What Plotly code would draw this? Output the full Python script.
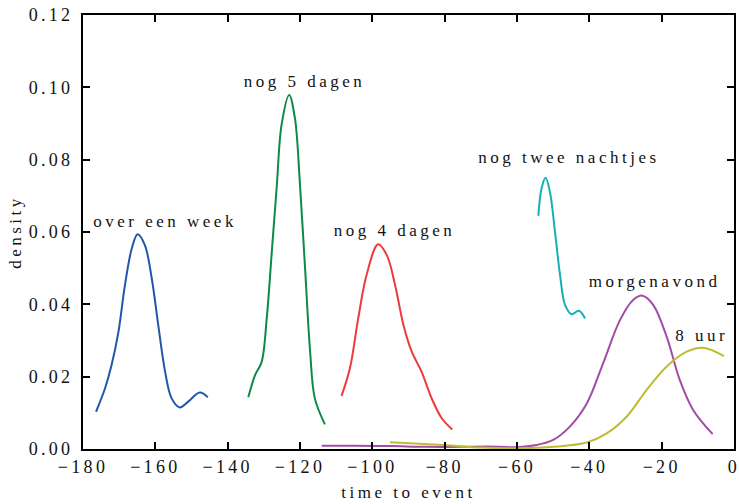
import plotly.graph_objects as go

# ---- data ----
week_x = [-176.4, -173.9, -172.1, -170.2, -168.4, -166.5, -164.9, -162.9, -161.0, -159.2, -157.3, -155.5, -153.2, -150.9, -147.7, -145.5]
week_y = [0.0103, 0.0168, 0.0232, 0.0324, 0.0453, 0.0555, 0.0594, 0.0564, 0.0472, 0.0343, 0.0214, 0.0140, 0.0115, 0.0131, 0.0156, 0.0143]

d5_x = [-134.3, -132.4, -130.6, -129.2, -127.8, -126.4, -125.1, -123.0, -121.4, -120.0, -118.6, -117.2, -115.9, -113.1]
d5_y = [0.0143, 0.0205, 0.0241, 0.0361, 0.0545, 0.0730, 0.0896, 0.0979, 0.0914, 0.0730, 0.0500, 0.0269, 0.0140, 0.0068]

d4_x = [-108.5, -106.2, -103.9, -101.6, -98.4, -96.0, -93.7, -91.4, -89.1, -86.4, -83.6, -80.8, -77.9]
d4_y = [0.0147, 0.0223, 0.0361, 0.0481, 0.0566, 0.0536, 0.0453, 0.0343, 0.0269, 0.0214, 0.0140, 0.0085, 0.0054]

n2_x = [-54.1, -53.2, -52.1, -50.9, -49.5, -48.1, -46.7, -44.9, -42.9, -41.2]
n2_y = [0.0645, 0.0721, 0.0750, 0.0711, 0.0601, 0.0481, 0.0398, 0.0373, 0.0382, 0.0361]

mo_x = [-114.0, -105.0, -95.0, -85.0, -75.0, -68.0, -60.0, -54.6, -50.0, -45.4, -40.7, -36.2, -31.5, -27.9, -25.3, -22.3, -18.6, -15.0, -11.3, -5.9]
mo_y = [0.0009, 0.0009, 0.0008, 0.0006, 0.0006, 0.0007, 0.0005, 0.0011, 0.0025, 0.0062, 0.0126, 0.0237, 0.0357, 0.0412, 0.0424, 0.0398, 0.0310, 0.0191, 0.0108, 0.0041]

u8_x = [-95.1, -80.4, -70.0, -60.0, -50.0, -40.7, -35.2, -29.7, -24.2, -18.6, -13.1, -8.5, -2.8]
u8_y = [0.0019, 0.0011, 0.0004, 0.0002, 0.0006, 0.0018, 0.0043, 0.0089, 0.0163, 0.0228, 0.0269, 0.0280, 0.0257]

labels = ["over een week", "nog 5 dagen", "nog 4 dagen", "nog twee nachtjes", "morgenavond", "8 uur"]
label_x = [-157.3, -118.6, -93.7, -45.6, -21.9, -8.9]
label_y = [0.0630, 0.1015, 0.0603, 0.0805, 0.0462, 0.0315]

colors = ["#2257a8", "#0b8b47", "#ee3a3a", "#13b0b8", "#a24ca6", "#bdbd32"]
series = [(week_x, week_y), (d5_x, d5_y), (d4_x, d4_y), (n2_x, n2_y), (mo_x, mo_y), (u8_x, u8_y)]

FONT = "Liberation Serif, Times New Roman, serif"

fig = go.Figure()
for (xs, ys), c, name in zip(series, colors, labels):
    fig.add_trace(go.Scatter(x=xs, y=ys, mode="lines", name=name,
                             line=dict(color=c, width=2, shape="spline", smoothing=1.0),
                             showlegend=False, hoverinfo="skip"))

for t, x, y in zip(labels, label_x, label_y):
    fig.add_annotation(x=x, y=y, text=t, showarrow=False,
                       font=dict(family=FONT, size=17, color="#111111"))

axis_common = dict(showgrid=False, zeroline=False, showline=True, linecolor="black",
                   linewidth=2, mirror="ticks", ticks="inside", ticklen=7, tickwidth=1.5,
                   tickcolor="black", automargin=False,
                   tickfont=dict(family=FONT, size=18, color="#111111"))

fig.update_xaxes(range=[-180, 0], dtick=20, tick0=0, ticklabelstandoff=0,
                 title=dict(text="time to event", font=dict(family=FONT, size=17, color="#111111"), standoff=11),
                 **axis_common)
fig.update_yaxes(range=[0, 0.12], dtick=0.02, tick0=0, tickformat=".2f", ticklabelstandoff=4,
                 title=dict(text="density", font=dict(family=FONT, size=17, color="#111111"), standoff=16),
                 **axis_common)

fig.update_layout(width=739, height=504, margin=dict(l=83, r=5, t=15, b=55),
                  plot_bgcolor="white", paper_bgcolor="white")

spacing_js = """
document.body.style.margin = '0';
document.body.style.overflow = 'hidden';
function spaceText(){
  var gd = document.getElementById('{plot_id}');
  gd.querySelectorAll('.xtick text, .ytick text').forEach(function(e){ e.style.letterSpacing = '3.3px'; });
  gd.querySelectorAll('.annotation-text, .xtitle, .ytitle').forEach(function(e){ e.style.letterSpacing = '3.5px'; });
}
spaceText();
var gdx = document.getElementById('{plot_id}');
if (gdx && gdx.on) { gdx.on('plotly_afterplot', spaceText); }
"""

fig.write_html("out.html", post_script=spacing_js, config={"displayModeBar": False})
